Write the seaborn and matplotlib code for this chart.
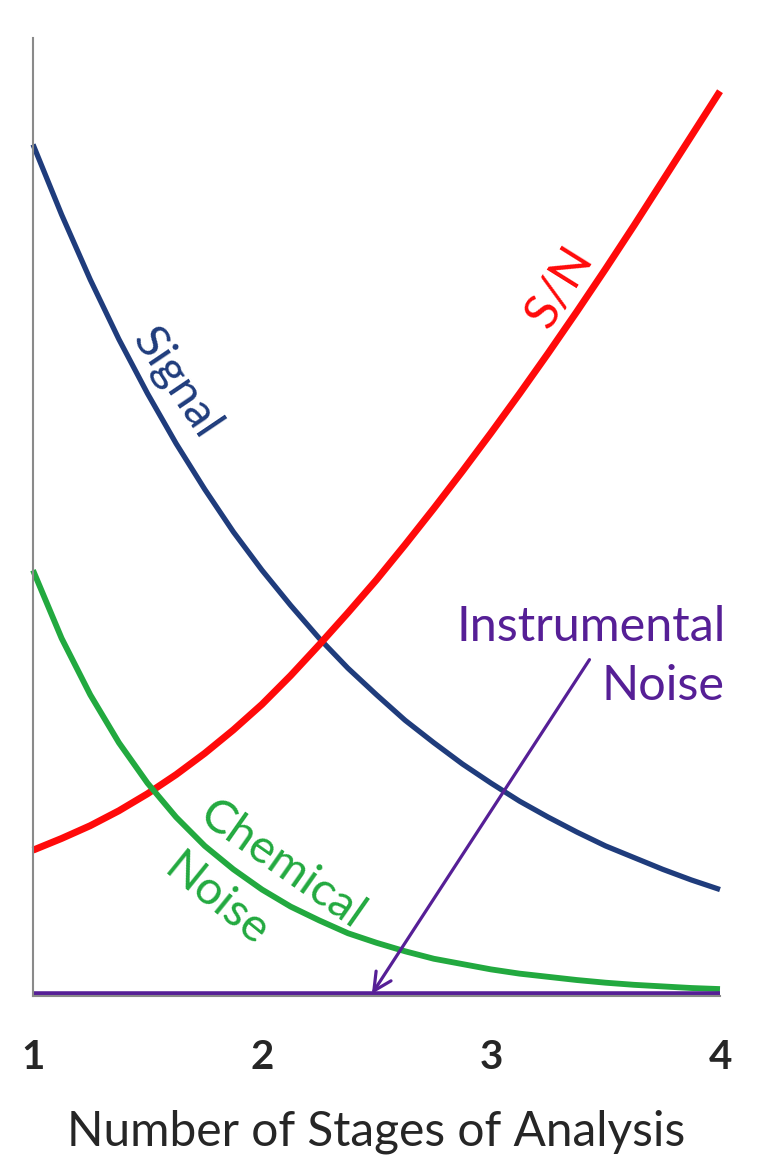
import matplotlib
matplotlib.use("Agg")
import matplotlib.pyplot as plt
import seaborn as sns

# -----------------------------
# Values
# -----------------------------
stages = [1.0, 1.125, 1.25, 1.375, 1.5, 1.625, 1.75, 1.875, 2.0,
          2.125, 2.25, 2.375, 2.5, 2.625, 2.75, 2.875, 3.0,
          3.125, 3.25, 3.375, 3.5, 3.625, 3.75, 3.875, 4.0]
signal = [8.00, 7.34, 6.73, 6.17, 5.66, 5.19, 4.76, 4.36, 4.00,
          3.67, 3.36, 3.08, 2.83, 2.59, 2.38, 2.18, 2.00,
          1.83, 1.68, 1.54, 1.41, 1.30, 1.19, 1.09, 1.00]
s_to_n = [1.37, 1.48, 1.60, 1.74, 1.90, 2.08, 2.28, 2.50, 2.74,
          3.01, 3.30, 3.60, 3.91, 4.24, 4.58, 4.93, 5.29,
          5.66, 6.04, 6.43, 6.83, 7.24, 7.66, 8.08, 8.50]
chemical_noise = [4.00, 3.36, 2.83, 2.38, 2.00, 1.68, 1.41, 1.19, 1.00,
                  0.84, 0.71, 0.59, 0.50, 0.42, 0.35, 0.30, 0.25,
                  0.21, 0.18, 0.15, 0.125, 0.105, 0.09, 0.075, 0.065]
instrumental_noise = [0.02] * 25

x_ticks = [1, 2, 3, 4]
y_ticks = [0, 1, 2, 3, 4, 5, 6, 7, 8, 9]

NAVY = "#1f3c7c"
RED = "#ff0a0a"
GREEN = "#22a93f"
PURPLE = "#561f96"

sns.set_style("white")
plt.rcParams['font.family'] = ['Lato', 'DejaVu Sans']

fig = plt.figure(figsize=(7.58, 11.75), dpi=100)
ax = fig.add_axes([33 / 758, 1 - 996 / 1175, 687 / 758, 958 / 1175])

sns.lineplot(x=stages, y=signal, color=NAVY, linewidth=3.8, ax=ax)
sns.lineplot(x=stages, y=s_to_n, color=RED, linewidth=5.0, ax=ax)
sns.lineplot(x=stages, y=chemical_noise, color=GREEN, linewidth=4.2, ax=ax)
sns.lineplot(x=stages, y=instrumental_noise, color=PURPLE, linewidth=4.0, ax=ax)
for line in ax.lines:
    line.set_clip_on(False)
    line.set_solid_capstyle("butt")

ax.set_xlim(1, 4)
ax.set_ylim(0, 9)
ax.set_xticks(x_ticks)
ax.set_yticks(y_ticks)
ax.set_yticklabels([])
ax.tick_params(axis="y", direction="out", length=9, width=1.5, color="#8a8a8a")
ax.tick_params(axis="x", direction="out", length=11, width=1.5, color="#8a8a8a",
               pad=20, labelsize=29)
for lab in ax.get_xticklabels():
    lab.set_fontweight("bold")
ax.set_xlabel("Number of Stages of Analysis", fontsize=34.5, labelpad=24)

sns.despine(ax=ax, top=True, right=True)
ax.spines["left"].set_color("#8a8a8a")
ax.spines["left"].set_linewidth(1.5)
ax.spines["bottom"].set_color("#8a8a8a")
ax.spines["bottom"].set_linewidth(1.5)

# -----------------------------
# Curve labels
# -----------------------------
ax.text(1.625, 5.76, "Signal", color=NAVY, fontsize=34, rotation=-56,
        ha="center", va="center", rotation_mode="anchor")
ax.text(3.30, 6.66, "S/N", color=RED, fontsize=35, rotation=58,
        ha="center", va="center", rotation_mode="anchor")
ax.text(2.09, 1.23, "Chemical", color=GREEN, fontsize=34, rotation=-35,
        ha="center", va="center", rotation_mode="anchor")
ax.text(1.80, 0.90, "Noise", color=GREEN, fontsize=34, rotation=-39,
        ha="center", va="center", rotation_mode="anchor")
ax.text(4.025, 3.47, "Instrumental", color=PURPLE, fontsize=35,
        ha="right", va="center")
ax.text(4.02, 2.91, "Noise", color=PURPLE, fontsize=35,
        ha="right", va="center")
ax.annotate("", xy=(2.48, 0.02), xytext=(3.43, 3.16),
            arrowprops=dict(arrowstyle="->", color=PURPLE, lw=2.3,
                            mutation_scale=32, shrinkA=0, shrinkB=0))

fig.savefig("out.png", dpi=100)
